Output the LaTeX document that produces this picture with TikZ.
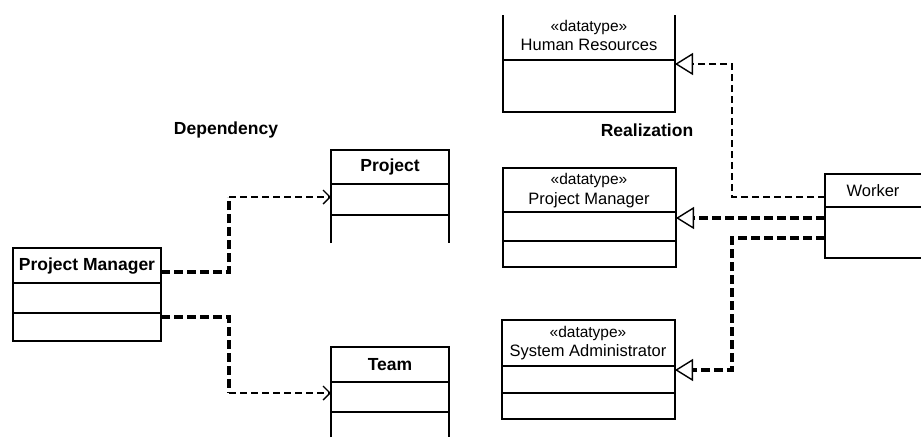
\documentclass[tikz,border=0pt]{standalone}
\usepackage{fontspec}
\setmainfont{Liberation Sans}
\usetikzlibrary{arrows.meta}
\begin{document}
\begin{tikzpicture}[x=1pt,y=-1pt,
  boxline/.style={line width=1.7pt},
  thickdash/.style={line width=3.2pt, dash pattern=on 9pt off 4pt},
  thindash/.style={line width=1.4pt, dash pattern=on 7pt off 4pt},
  lbl/.style={font=\fontsize{16.5}{18}\selectfont, inner sep=0pt},
  slbl/.style={font=\fontsize{15.5}{17}\selectfont, inner sep=0pt},
  blbl/.style={font=\fontsize{17.5}{19}\selectfont\bfseries, inner sep=0pt},
  stick/.style={-{Straight Barb[length=7pt,width=14pt,line width=1.4pt]}},
  real/.style={-{Triangle[open,length=18pt,width=22pt,line width=1.4pt]}}]
\useasboundingbox (0,0) rectangle (921,437);
\fill[white] (0,0) rectangle (921,437);

% section labels
\node[blbl] (deplbl) at (226,130) {Dependency};
\node[blbl] (reallbl) at (647,130) {Realization};

% Project Manager (left)
\draw[boxline] (13,248) rectangle (161,341);
\draw[boxline] (13,283) -- (161,283) (13,313) -- (161,313);
\node[blbl] (pml) at (87,266) {Project Manager};

% Project (open bottom)
\draw[boxline] (331,243) -- (331,150) -- (449,150) -- (449,243);
\draw[boxline] (331,184) -- (449,184) (331,215) -- (449,215);
\node[blbl] (proj) at (390,167) {Project};

% Team (open bottom)
\draw[boxline] (331,437) -- (331,347) -- (449,347) -- (449,437);
\draw[boxline] (331,382) -- (449,382) (331,412) -- (449,412);
\node[blbl] (team) at (390,365) {Team};

% Human Resources (open top)
\draw[boxline] (503,15) -- (503,112) -- (675,112) -- (675,15);
\draw[boxline] (503,60) -- (675,60);
\node[slbl] (hrst) at (589,27) {«datatype»};
\node[lbl] (hr) at (589,45) {Human Resources};

% Project Manager (datatype)
\draw[boxline] (503,168) rectangle (676,267);
\draw[boxline] (503,212) -- (676,212) (503,241) -- (676,241);
\node[slbl] (pmst) at (589,180) {«datatype»};
\node[lbl] (pmm) at (589,200) {Project Manager};

% System Administrator
\draw[boxline] (502,320) rectangle (675,419);
\draw[boxline] (502,366) -- (675,366) (502,393) -- (675,393);
\node[slbl] (sast) at (588,333) {«datatype»};
\node[lbl] (sa) at (588,352) {System Administrator};

% Worker (open right)
\draw[boxline] (921,174) -- (825,174) -- (825,258) -- (921,258);
\draw[boxline] (825,207) -- (921,207);
\node[lbl] (worker) at (873,191) {Worker};

% connector coordinates
\coordinate (pmA) at (161,272);
\coordinate (pmB) at (161,317);
\coordinate (cA) at (229,272);
\coordinate (cA2) at (229,197);
\coordinate (cB) at (229,317);
\coordinate (cB2) at (229,393);
\coordinate (projIn) at (331,197);
\coordinate (teamIn) at (331,393);

\coordinate (wA) at (825,197);
\coordinate (wB) at (825,218);
\coordinate (wC) at (825,238);
\coordinate (hrIn) at (675,64);
\coordinate (pmmIn) at (676,218);
\coordinate (saIn) at (675,370);

% Dependency connectors
\draw[thickdash] (pmA) -- (cA) -- (cA2);
\draw[thindash, stick] (cA2) -- (projIn);
\draw[thickdash] (pmB) -- (cB) -- (cB2);
\draw[thindash, stick] (cB2) -- (teamIn);

% Realization connectors
\draw[thindash, real] (wA) -- (732,197) -- (732,64) -- (hrIn);
\draw[thickdash, real] (wB) -- (pmmIn);
\draw[thickdash, real] (wC) -- (732,238) -- (732,370) -- (saIn);
\end{tikzpicture}
\end{document}
